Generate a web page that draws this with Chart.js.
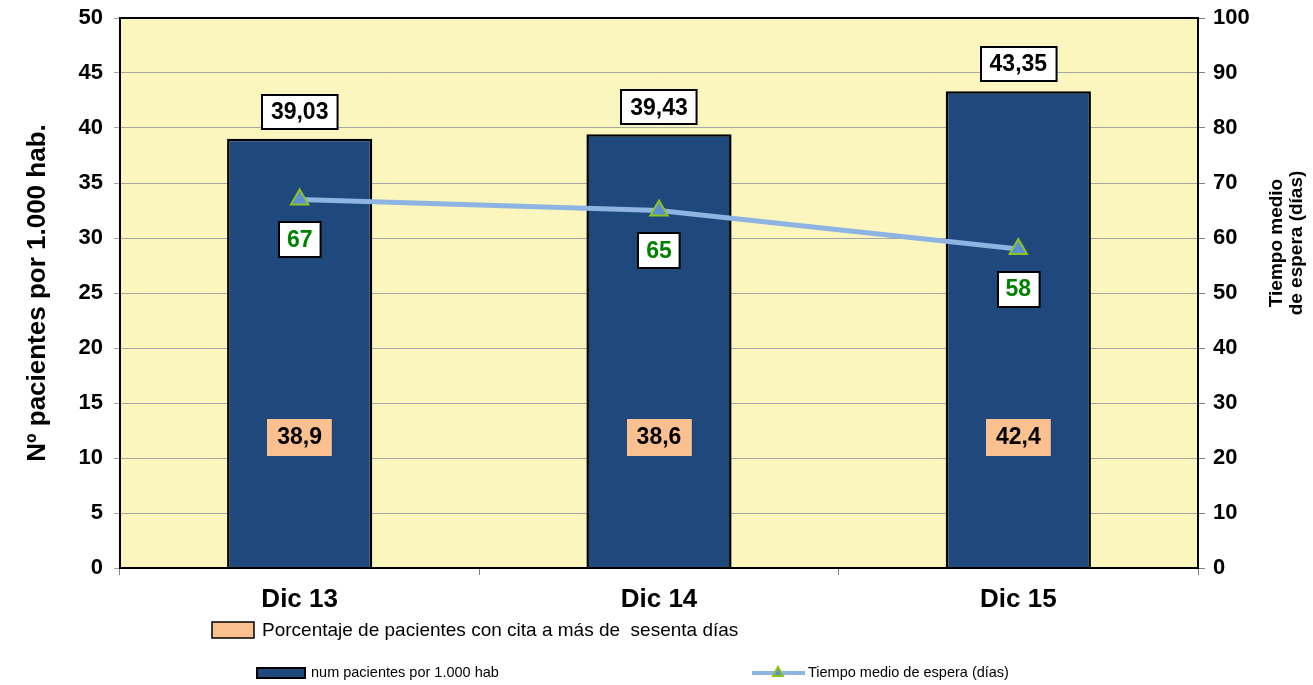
<!DOCTYPE html>
<html>
<head>
<meta charset="utf-8">
<script src="https://cdn.jsdelivr.net/npm/chart.js@4.4.1/dist/chart.umd.min.js"></script>
<style>
  html, body { margin: 0; padding: 0; background: #fff; }
  #wrap { width: 1313px; height: 685px; }
</style>
</head>
<body>
<div id="wrap"><canvas id="chart-espera" width="1313" height="685"></canvas></div>
<script>
// datos
const periodos = ['Dic 13', 'Dic 14', 'Dic 15'];
const pacientesPor1000 = [39.03, 39.43, 43.35];
const tiempoMedio = [67, 65, 58];
const porcentajeMas60 = [38.9, 38.6, 42.4];

const ticksIzq = [0, 5, 10, 15, 20, 25, 30, 35, 40, 45, 50];
const ticksDer = [0, 10, 20, 30, 40, 50, 60, 70, 80, 90, 100];

const fmt = (v, d) => v.toFixed(d).replace('.', ',');

const FONT = 'Liberation Sans, Arial, sans-serif';
const azulBarra = '#1F497D';
const azulLinea = '#8DB4E2';
const naranja = '#FAC090';
const verde = '#008000';

function cajaTexto(ctx, txt, cx, cy, opts) {
  ctx.font = opts.font;
  const w = ctx.measureText(txt).width + opts.padX * 2;
  const h = opts.h;
  const x = Math.round(cx - w / 2), y = Math.round(cy - h / 2);
  ctx.fillStyle = opts.fill;
  ctx.fillRect(x, y, w, h);
  if (opts.stroke) {
    ctx.strokeStyle = opts.stroke;
    ctx.lineWidth = 2;
    ctx.strokeRect(x, y, w, h);
  }
  ctx.fillStyle = opts.color;
  ctx.textAlign = 'center';
  ctx.textBaseline = 'middle';
  ctx.fillText(txt, cx, cy + 1);
}

const extras = {
  id: 'extras',
  beforeDraw(chart) {
    const { ctx, chartArea: a } = chart;
    ctx.save();
    ctx.fillStyle = '#FBF5BE';
    ctx.fillRect(a.left, a.top, a.right - a.left, a.bottom - a.top);
    ctx.restore();
  },
  afterDraw(chart) {
    const { ctx, chartArea: a } = chart;
    const y = chart.scales.y;
    const barMeta = chart.getDatasetMeta(0);
    const lineMeta = chart.getDatasetMeta(1);
    ctx.save();

    // marco
    ctx.strokeStyle = '#000';
    ctx.lineWidth = 2;
    ctx.strokeRect(a.left, a.top, a.right - a.left, a.bottom - a.top);

    // etiquetas de barras
    barMeta.data.forEach((bar, i) => {
      cajaTexto(ctx, fmt(pacientesPor1000[i], 2), bar.x, bar.y - 27, {
        font: 'bold 23px ' + FONT, padX: 9, h: 34, fill: '#fff', stroke: '#000', color: '#000'
      });
      // porcentaje > 60 dias
      cajaTexto(ctx, fmt(porcentajeMas60[i], 1), bar.x, y.getPixelForValue(11.9), {
        font: 'bold 23px ' + FONT, padX: 10, h: 37, fill: naranja, stroke: null, color: '#000'
      });
    });

    // etiquetas de la linea
    lineMeta.data.forEach((pt, i) => {
      cajaTexto(ctx, String(tiempoMedio[i]), pt.x, pt.y + 40, {
        font: 'bold 23px ' + FONT, padX: 8, h: 35, fill: '#fff', stroke: '#000', color: verde
      });
    });

    // titulo eje derecho
    ctx.translate(1287, 243);
    ctx.rotate(-Math.PI / 2);
    ctx.fillStyle = '#000';
    ctx.font = 'bold 19px ' + FONT;
    ctx.textAlign = 'center';
    ctx.textBaseline = 'middle';
    ctx.fillText('Tiempo medio', 0, -10);
    ctx.fillText('de espera (días)', 0, 10);
    ctx.setTransform(1, 0, 0, 1, 0, 0);

    // leyenda
    ctx.fillStyle = naranja;
    ctx.fillRect(212, 622, 42, 16);
    ctx.strokeStyle = '#000';
    ctx.lineWidth = 1.5;
    ctx.strokeRect(212, 622, 42, 16);
    ctx.fillStyle = '#000';
    ctx.font = '19px ' + FONT;
    ctx.textAlign = 'left';
    ctx.textBaseline = 'middle';
    ctx.fillText('Porcentaje de pacientes con cita a más de  sesenta días', 262, 631);

    ctx.fillStyle = azulBarra;
    ctx.fillRect(257, 668, 48, 10);
    ctx.strokeStyle = '#000';
    ctx.lineWidth = 2;
    ctx.strokeRect(257, 668, 48, 10);
    ctx.fillStyle = '#000';
    ctx.font = '14.5px ' + FONT;
    ctx.fillText('num pacientes por 1.000 hab', 311, 673);

    ctx.strokeStyle = azulLinea;
    ctx.lineWidth = 4;
    ctx.beginPath();
    ctx.moveTo(752, 673);
    ctx.lineTo(805, 673);
    ctx.stroke();
    ctx.beginPath();
    ctx.moveTo(778, 667);
    ctx.lineTo(783, 676);
    ctx.lineTo(773, 676);
    ctx.closePath();
    ctx.fillStyle = '#5B8FD6';
    ctx.fill();
    ctx.strokeStyle = '#8DC21F';
    ctx.lineWidth = 2;
    ctx.stroke();
    ctx.fillStyle = '#000';
    ctx.fillText('Tiempo medio de espera (días)', 808, 673);

    ctx.restore();
  }
};

const ctx = document.getElementById('chart-espera').getContext('2d');
new Chart(ctx, {
  data: {
    labels: periodos,
    datasets: [{
      type: 'bar',
      label: 'num pacientes por 1.000 hab',
      data: pacientesPor1000,
      backgroundColor: azulBarra,
      borderColor: '#000',
      borderWidth: 2.5,
      categoryPercentage: 0.8,
      barPercentage: 0.505,
      yAxisID: 'y',
      order: 2
    }, {
      type: 'line',
      label: 'Tiempo medio de espera (días)',
      data: tiempoMedio,
      borderColor: azulLinea,
      borderWidth: 5,
      pointStyle: 'triangle',
      pointRadius: 10,
      pointHoverRadius: 10,
      pointBackgroundColor: '#5B8FD6',
      pointBorderColor: '#8DC21F',
      pointBorderWidth: 2,
      tension: 0,
      yAxisID: 'y2',
      order: 1
    }]
  },
  options: {
    responsive: false,
    animation: false,
    layout: { padding: { top: 18, left: 10, right: 0, bottom: 0 } },
    plugins: {
      legend: { display: false },
      tooltip: { enabled: false }
    },
    scales: {
      x: {
        offset: true,
        grid: { offset: true, drawOnChartArea: false, tickLength: 7, color: '#808080' },
        border: { color: '#000', width: 2 },
        ticks: { color: '#000', font: { family: FONT, size: 26, weight: 'bold' }, padding: 9 },
        afterFit(scale) { scale.height = 117; }
      },
      y: {
        position: 'left',
        min: 0, max: 50,
        afterBuildTicks(scale) { scale.ticks = ticksIzq.map(v => ({ value: v })); },
        grid: { color: '#A6A6A6', tickLength: 6 },
        border: { color: '#000', width: 2 },
        ticks: { color: '#000', font: { family: FONT, size: 22, weight: 'bold' }, padding: 11 },
        title: {
          display: true,
          text: 'Nº pacientes por 1.000 hab.',
          color: '#000',
          font: { family: FONT, size: 26, weight: 'bold' },
          padding: { top: 12, bottom: 0 }
        },
        afterFit(scale) { scale.width = 110; scale.paddingTop = 0; scale.paddingBottom = 0; }
      },
      y2: {
        position: 'right',
        min: 0, max: 100,
        afterBuildTicks(scale) { scale.ticks = ticksDer.map(v => ({ value: v })); },
        grid: { drawOnChartArea: false, tickLength: 7, color: '#808080' },
        border: { color: '#000', width: 2 },
        ticks: { color: '#000', font: { family: FONT, size: 22, weight: 'bold' }, padding: 8 },
        afterFit(scale) { scale.width = 115; scale.paddingTop = 0; scale.paddingBottom = 0; }
      }
    }
  },
  plugins: [extras]
});
</script>
</body>
</html>
